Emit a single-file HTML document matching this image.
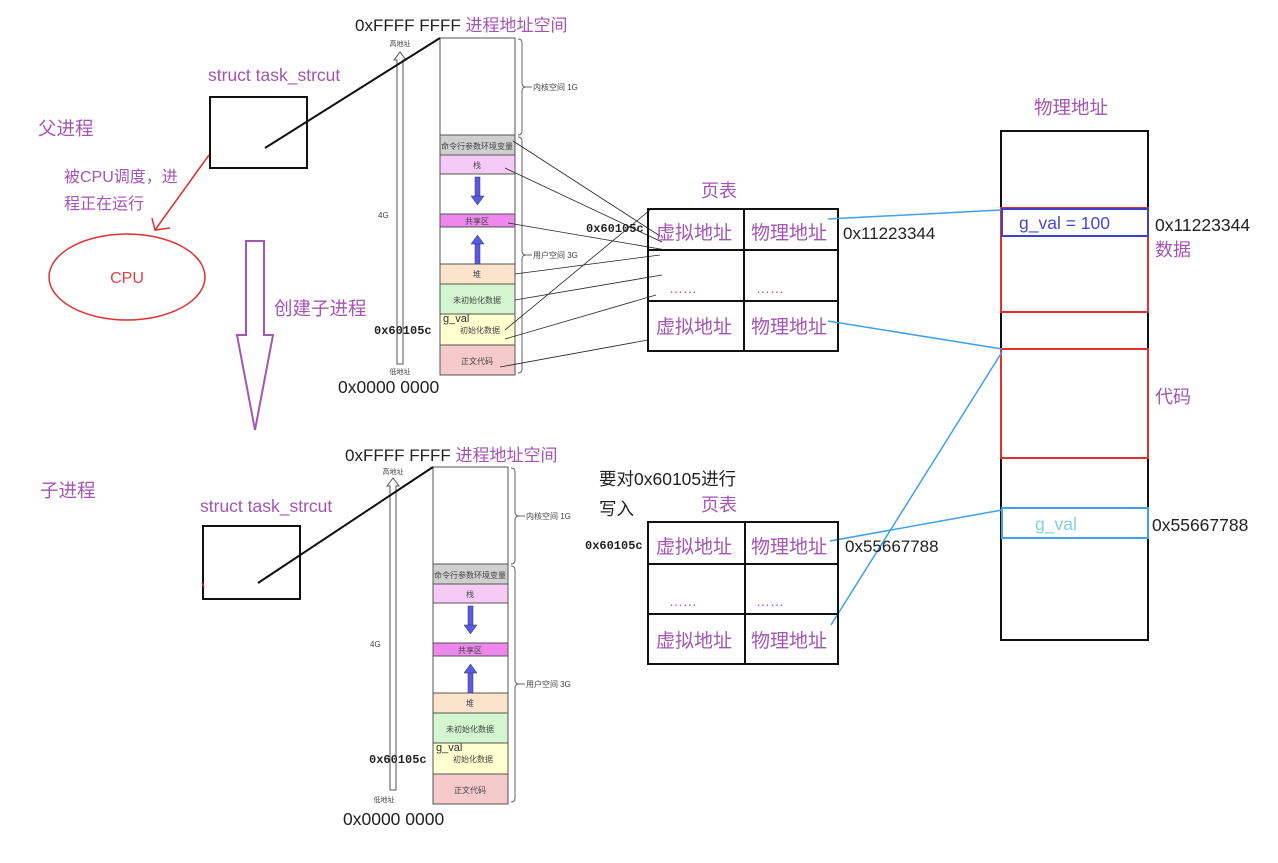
<!DOCTYPE html>
<html><head><meta charset="utf-8"><style>
html,body{margin:0;padding:0;background:#fff;}
svg{display:block;font-family:"Liberation Sans","Noto Sans CJK SC",sans-serif;}
.p{fill:#a355b3;}
.k{fill:#222;}
.m{font-family:"Liberation Mono","Noto Sans CJK SC",monospace;font-size:12px;fill:#222;}
</style></head><body>
<svg width="1278" height="863" viewBox="0 0 1278 863" xmlns="http://www.w3.org/2000/svg">
<defs>
<g id="mem">
  <rect x="0" y="0" width="75" height="97" fill="#fff" stroke="#555"/>
  <rect x="0" y="97" width="75" height="20" fill="#cfcfcf" stroke="#555"/>
  <rect x="0" y="117" width="75" height="19" fill="#f6caf6" stroke="#555"/>
  <rect x="0" y="136" width="75" height="40" fill="#fff" stroke="#555"/>
  <rect x="0" y="176" width="75" height="13" fill="#ee88ee" stroke="#555"/>
  <rect x="0" y="189" width="75" height="37" fill="#fff" stroke="#555"/>
  <rect x="0" y="226" width="75" height="20" fill="#fbe3cc" stroke="#555"/>
  <rect x="0" y="246" width="75" height="30" fill="#d3f5cf" stroke="#555"/>
  <rect x="0" y="276" width="75" height="31" fill="#ffffcf" stroke="#555"/>
  <rect x="0" y="307" width="75" height="30" fill="#f4caca" stroke="#555"/>
  <text x="37" y="111" font-size="8" fill="#444" text-anchor="middle">命令行参数环境变量</text>
  <text x="37" y="130" font-size="8" fill="#444" text-anchor="middle">栈</text>
  <text x="37" y="186" font-size="8" fill="#444" text-anchor="middle">共享区</text>
  <text x="37" y="239" font-size="8" fill="#444" text-anchor="middle">堆</text>
  <text x="37" y="265" font-size="8" fill="#444" text-anchor="middle">未初始化数据</text>
  <text x="3" y="284" font-size="11" fill="#333">g_val</text>
  <text x="40" y="295" font-size="8" fill="#444" text-anchor="middle">初始化数据</text>
  <text x="37" y="326" font-size="8" fill="#444" text-anchor="middle">正文代码</text>
  <rect x="35" y="139" width="5" height="20" fill="#5a5ae8" stroke="#334" stroke-width=".5"/>
  <polygon points="31,158 44,158 37.5,167" fill="#5a5ae8" stroke="#334" stroke-width=".5"/>
  <rect x="35" y="205" width="5" height="21" fill="#5a5ae8" stroke="#334" stroke-width=".5"/>
  <polygon points="31,206 44,206 37.5,197" fill="#5a5ae8" stroke="#334" stroke-width=".5"/>
  <path d="M78,1 q4,0 4,4 v40 q0,4 4,4 q-4,0 -4,4 v40 q0,4 -4,4" fill="none" stroke="#666"/>
  <path d="M78,99 q4,0 4,4 v110 q0,4 4,4 q-4,0 -4,4 v110 q0,4 -4,4" fill="none" stroke="#666"/>
  <line x1="86" y1="49" x2="92" y2="49" stroke="#666"/>
  <line x1="86" y1="217" x2="92" y2="217" stroke="#666"/>
  <text x="93" y="52" font-size="8" fill="#444">内核空间 1G</text>
  <text x="93" y="220" font-size="8" fill="#444">用户空间 3G</text>
</g>
<g id="arr">
  <polygon points="0,0 -6,8 -3,8 -3,312 3,312 3,8 6,8" fill="#fff" stroke="#555"/>
</g>
</defs>

<!-- ===== top ===== -->
<text x="355" y="31" font-size="17" class="k">0xFFFF FFFF <tspan class="p">进程地址空间</tspan></text>
<text x="400" y="46" font-size="7" fill="#444" text-anchor="middle">高地址</text>
<use href="#arr" x="400" y="52"/>
<text x="400" y="374" font-size="7" fill="#444" text-anchor="middle">低地址</text>
<text x="378" y="218" font-size="8" fill="#444">4G</text>
<text x="338" y="393" font-size="17.5" class="k">0x0000 0000</text>
<text x="374" y="334" class="m" font-weight="bold">0x60105c</text>
<use href="#mem" x="440" y="38"/>

<text x="208" y="81" font-size="17.5" class="p">struct task_strcut</text>
<rect x="210" y="97" width="97" height="71" fill="none" stroke="#111" stroke-width="2"/>
<line x1="265" y1="148" x2="440" y2="38" stroke="#111" stroke-width="2"/>
<text x="38" y="135" font-size="18.5" class="p">父进程</text>
<text x="64" y="182" font-size="16" class="p">被CPU调度，进</text>
<text x="64" y="209" font-size="16" class="p">程正在运行</text>
<line x1="209" y1="155" x2="155" y2="230" stroke="#e03030" stroke-width="1.5"/>
<polyline points="152,218 155,230 170,228" fill="none" stroke="#e03030" stroke-width="1.5"/>
<ellipse cx="127" cy="277" rx="78" ry="43" fill="none" stroke="#e03030" stroke-width="1.5"/>
<text x="127" y="283" font-size="16" fill="#e04040" text-anchor="middle">CPU</text>

<polygon points="246,241 264,241 264,335 273,335 255,430 237,335 246,335" fill="none" stroke="#a355b3" stroke-width="2"/>
<text x="274" y="315" font-size="18.5" class="p">创建子进程</text>

<g stroke="#222" stroke-width="0.8">
<line x1="513" y1="141" x2="660" y2="236"/>
<line x1="505" y1="168" x2="662" y2="242"/>
<line x1="508" y1="223" x2="666" y2="250"/>
<line x1="515" y1="274" x2="660" y2="255"/>
<line x1="515" y1="300" x2="662" y2="275"/>
<line x1="505" y1="339" x2="656" y2="295"/>
<line x1="500" y1="367" x2="648" y2="340"/>
<line x1="505" y1="330" x2="650" y2="210"/>
</g>

<text x="719" y="197" font-size="18" class="p" text-anchor="middle">页表</text>
<text x="586" y="232" class="m" font-size="11" font-weight="bold">0x60105c</text>
<rect x="648" y="209" width="190" height="142" fill="none" stroke="#111" stroke-width="2"/>
<line x1="648" y1="250" x2="838" y2="250" stroke="#111" stroke-width="2"/>
<line x1="648" y1="301" x2="838" y2="301" stroke="#111" stroke-width="2"/>
<line x1="744" y1="209" x2="744" y2="351" stroke="#111" stroke-width="2"/>
<text x="694" y="239" font-size="19" class="p" text-anchor="middle">虚拟地址</text>
<text x="789" y="239" font-size="19" class="p" text-anchor="middle">物理地址</text>
<text x="683" y="293" font-size="14" class="p" text-anchor="middle">……</text>
<text x="770" y="293" font-size="14" class="p" text-anchor="middle">……</text>
<text x="694" y="333" font-size="19" class="p" text-anchor="middle">虚拟地址</text>
<text x="789" y="333" font-size="19" class="p" text-anchor="middle">物理地址</text>
<text x="843" y="239" font-size="17" class="k">0x11223344</text>

<text x="1071" y="114" font-size="18.5" class="p" text-anchor="middle">物理地址</text>
<rect x="1001" y="131" width="147" height="509" fill="none" stroke="#111" stroke-width="2"/>
<rect x="1001" y="208" width="147" height="104" fill="none" stroke="#e03030" stroke-width="2"/>
<rect x="1002" y="209" width="146" height="27" fill="none" stroke="#4040d0" stroke-width="2"/>
<text x="1019" y="229" font-size="17.5" fill="#4848d8">g_val = 100</text>
<rect x="1001" y="349" width="147" height="109" fill="none" stroke="#e03030" stroke-width="2"/>
<rect x="1002" y="508" width="146" height="30" fill="none" stroke="#40a0e8" stroke-width="2"/>
<text x="1035" y="530" font-size="17.5" fill="#80d0e0">g_val</text>
<text x="1155" y="231" font-size="17.5" class="k">0x11223344</text>
<text x="1155" y="256" font-size="18" class="p">数据</text>
<text x="1155" y="403" font-size="18" class="p">代码</text>
<text x="1152" y="531" font-size="17.5" class="k">0x55667788</text>

<g stroke="#40a0e8" stroke-width="1.5" fill="none">
<line x1="828" y1="219" x2="1001" y2="210"/>
<line x1="828" y1="321" x2="1002" y2="349"/>
<line x1="830" y1="541" x2="1002" y2="510"/>
<line x1="831" y1="625" x2="1002" y2="352"/>
</g>

<!-- ===== bottom ===== -->
<text x="345" y="461" font-size="17" class="k">0xFFFF FFFF <tspan class="p">进程地址空间</tspan></text>
<text x="393" y="474" font-size="7" fill="#444" text-anchor="middle">高地址</text>
<use href="#arr" x="393" y="478"/>
<text x="384" y="802" font-size="7" fill="#444" text-anchor="middle">低地址</text>
<text x="370" y="647" font-size="8" fill="#444">4G</text>
<text x="343" y="825" font-size="17.5" class="k">0x0000 0000</text>
<text x="369" y="763" class="m" font-weight="bold">0x60105c</text>
<use href="#mem" x="433" y="467"/>

<text x="40" y="497" font-size="18.5" class="p">子进程</text>
<text x="200" y="512" font-size="17.5" class="p">struct task_strcut</text>
<rect x="203" y="526" width="97" height="73" fill="none" stroke="#111" stroke-width="2"/>
<line x1="258" y1="583" x2="433" y2="467" stroke="#111" stroke-width="2"/>
<line x1="202" y1="583" x2="204" y2="587" stroke="#e03030" stroke-width="1.5"/>

<text x="599" y="485" font-size="17.5" class="k">要对0x60105进行</text>
<text x="599" y="515" font-size="17.5" class="k">写入</text>
<text x="719" y="511" font-size="18" class="p" text-anchor="middle">页表</text>
<text x="585" y="549" class="m" font-size="11" font-weight="bold">0x60105c</text>
<rect x="648" y="522" width="190" height="142" fill="none" stroke="#111" stroke-width="2"/>
<line x1="648" y1="564" x2="838" y2="564" stroke="#111" stroke-width="2"/>
<line x1="648" y1="614" x2="838" y2="614" stroke="#111" stroke-width="2"/>
<line x1="745" y1="522" x2="745" y2="664" stroke="#111" stroke-width="2"/>
<text x="694" y="553" font-size="19" class="p" text-anchor="middle">虚拟地址</text>
<text x="789" y="553" font-size="19" class="p" text-anchor="middle">物理地址</text>
<text x="683" y="606" font-size="14" class="p" text-anchor="middle">……</text>
<text x="770" y="606" font-size="14" class="p" text-anchor="middle">……</text>
<text x="694" y="647" font-size="19" class="p" text-anchor="middle">虚拟地址</text>
<text x="789" y="647" font-size="19" class="p" text-anchor="middle">物理地址</text>
<text x="845" y="552" font-size="17" class="k">0x55667788</text>
</svg>
</body></html>
